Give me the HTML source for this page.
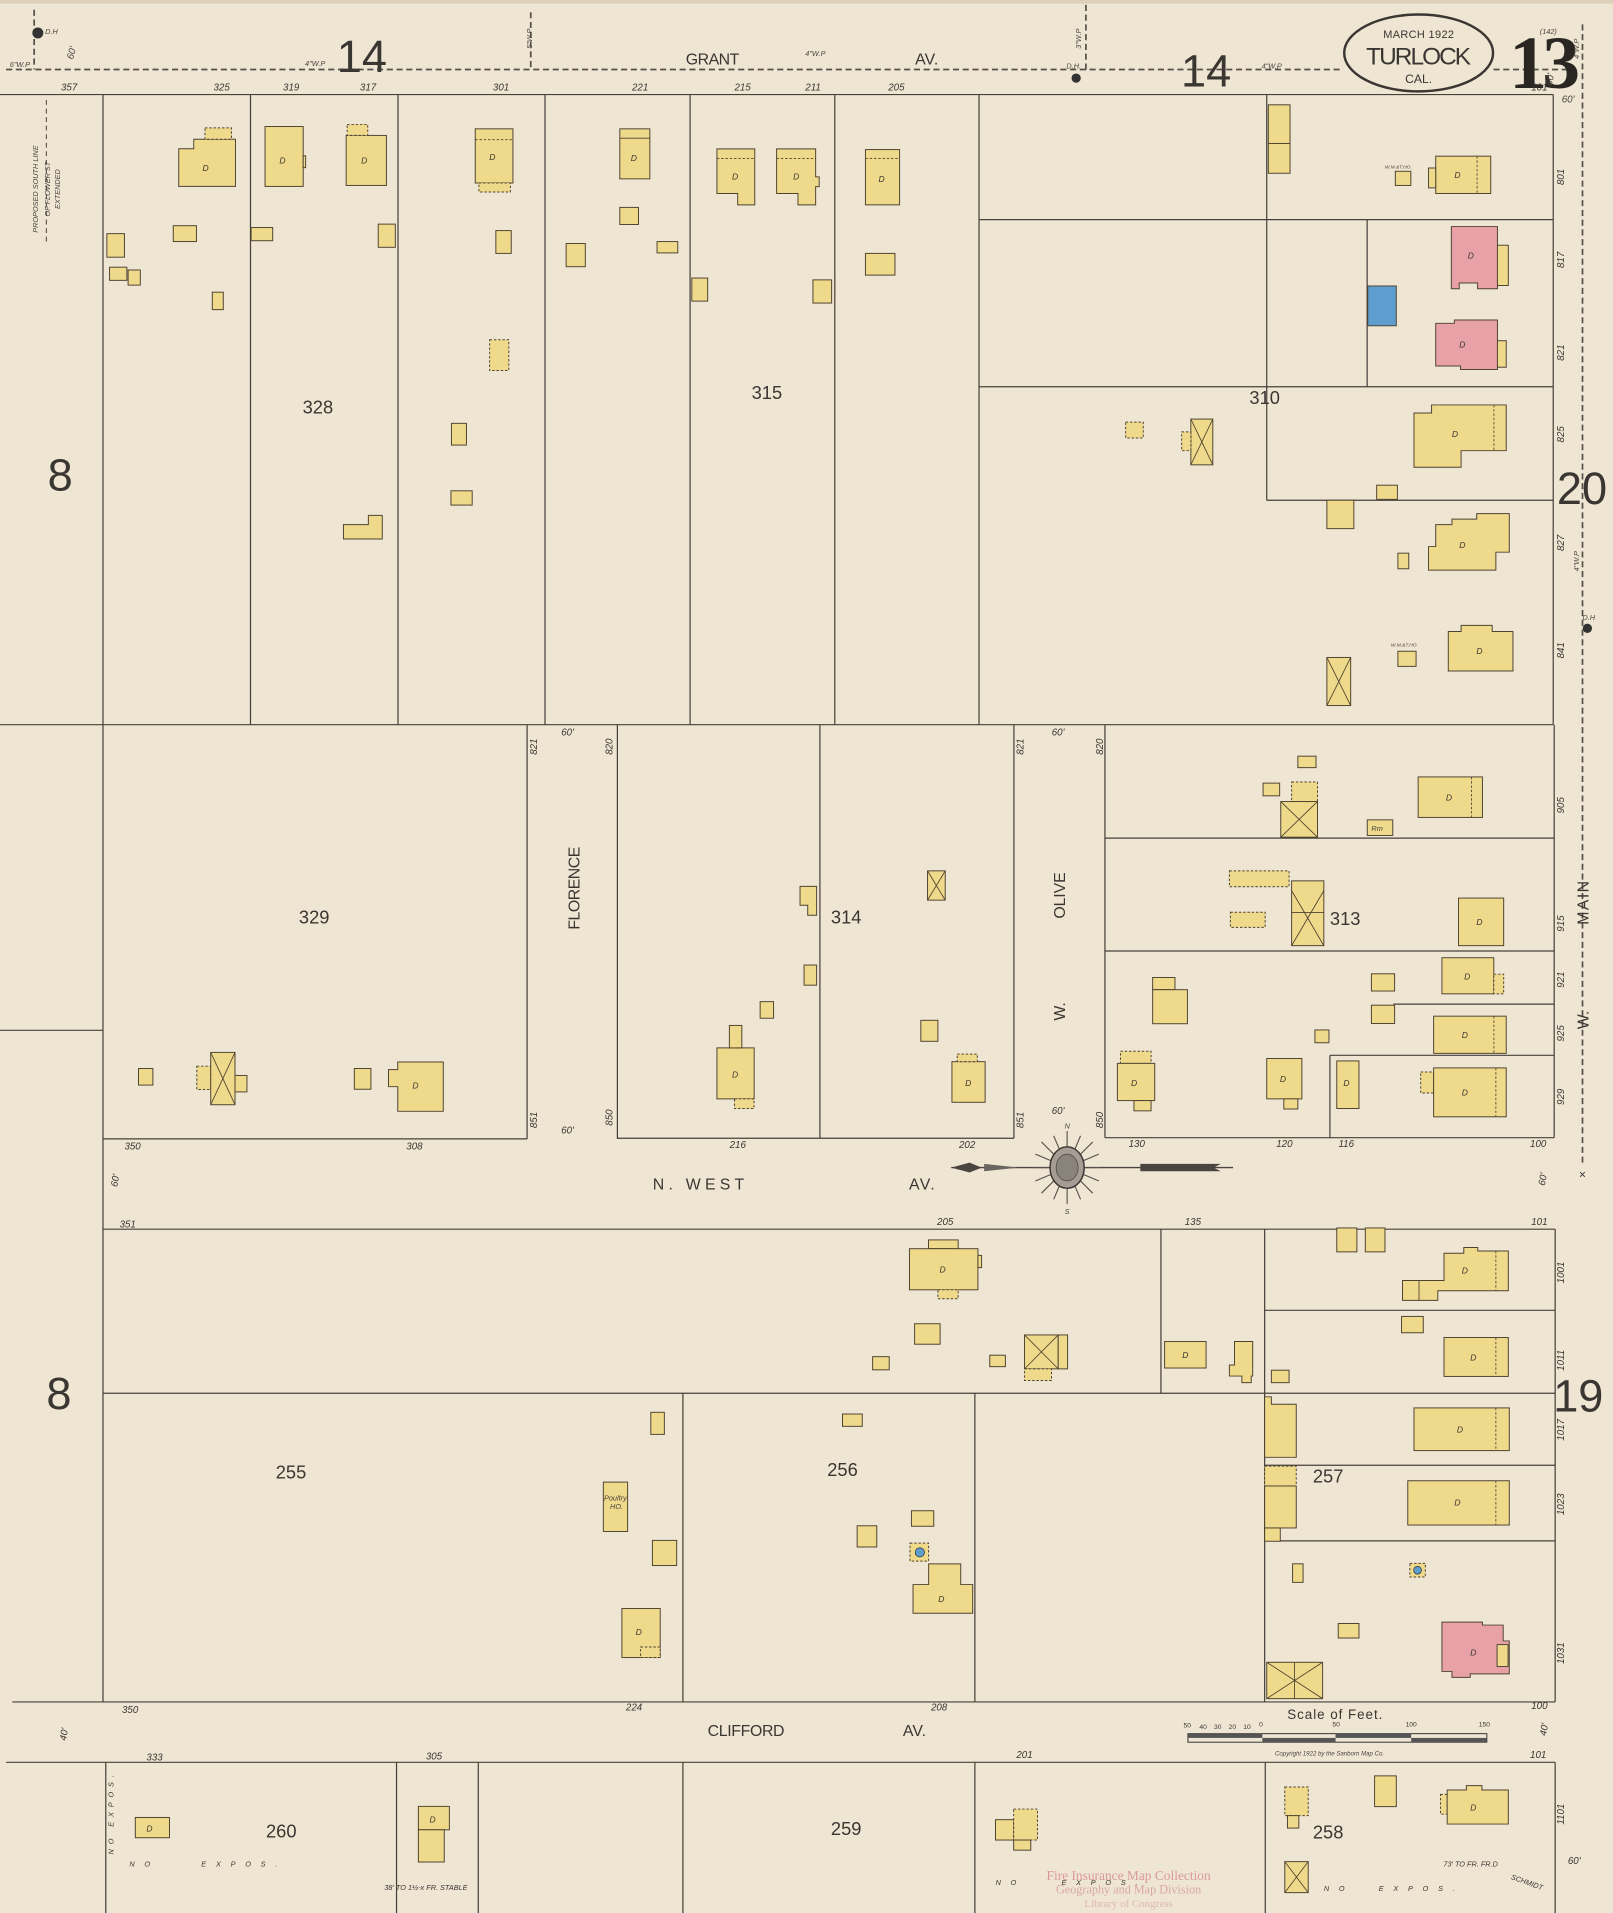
<!DOCTYPE html>
<html><head><meta charset="utf-8"><style>
html,body{margin:0;padding:0;background:#efe5d3;}
svg{display:block;}
.l{stroke:#45403a;stroke-width:1;fill:none;}
.b{fill:#efd98b;stroke:#4e4330;stroke-width:0.8;}
.bd{fill:#efd98b;stroke:#4e4330;stroke-width:0.8;stroke-dasharray:2 1.5;}
.p{fill:#e8a1a7;stroke:#4e4330;stroke-width:0.8;}
.u{fill:#5e9ecf;stroke:#4e4330;stroke-width:0.8;}
.x{stroke:#4e4330;stroke-width:0.7;fill:none;}
.dash{stroke:#55504a;stroke-width:1.4;stroke-dasharray:5 3;fill:none;}
text{font-family:"Liberation Sans",sans-serif;fill:#3a3632;}
.n{font-size:8px;font-style:italic;fill:#4a4540;}
.bn{font-size:15px;}
.big{font-size:37px;font-weight:normal;}
.st{font-size:13px;}
.t{font-size:6px;font-style:italic;fill:#4a4540;}
.dd{font-size:7px;font-style:italic;fill:#4a4540;}
</style></head><body>
<svg width="1613" height="1913" viewBox="0 0 1322 1568" preserveAspectRatio="none" xmlns="http://www.w3.org/2000/svg">
<rect x="0" y="0" width="1322" height="1568" fill="#efe5d3"/>
<rect x="0" y="0" width="1322" height="3" fill="#ddd0bb"/>

<!-- top dashed water line -->
<line class="dash" x1="5" y1="57" x2="1100" y2="57"/>
<line class="dash" x1="1224" y1="57" x2="1290" y2="57"/>
<line class="dash" x1="28" y1="8" x2="28" y2="57"/>
<line class="dash" x1="435" y1="10" x2="435" y2="57"/>
<line class="dash" x1="890" y1="4" x2="890" y2="57"/>
<line class="dash" x1="1297" y1="20" x2="1297" y2="956"/>
<circle cx="31" cy="27" r="4.5" fill="#333"/>
<text x="37" y="28" class="t">D.H</text>
<circle cx="882" cy="64" r="3.8" fill="#333"/>
<text x="874" y="56" class="t">D.H.</text>
<circle cx="1301" cy="515" r="3.8" fill="#333"/>
<text x="1297" y="508" class="t">D.H</text>
<text x="1297" y="966" font-size="10" text-anchor="middle">×</text>
<text x="8" y="55" class="t">6"W.P</text>
<text x="56" y="52" class="n" transform="rotate(-75 56 48)">60'</text>
<text x="250" y="54" class="t">4"W.P</text>
<text x="276" y="59" class="big">14</text>
<text x="430" y="46" class="t" transform="rotate(-90 430 40)">5"W.P</text>
<text x="562" y="53" class="st" textLength="44">GRANT</text>
<text x="660" y="46" class="t">4"W.P</text>
<text x="750" y="53" class="st" textLength="19">AV.</text>
<text x="886" y="40" class="t" transform="rotate(-90 886 40)">3"W.P</text>
<text x="968" y="71" class="big">14</text>
<text x="1034" y="56" class="t">4"W.P</text>

<!-- title oval -->
<ellipse cx="1162.7" cy="43.4" rx="61" ry="31.5" fill="#efe5d3" stroke="#3a3632" stroke-width="2"/>
<text x="1162.7" y="31" font-size="9" text-anchor="middle" textLength="58">MARCH 1922</text>
<text x="1162.7" y="53" font-size="20" text-anchor="middle" textLength="86">TURLOCK</text>
<text x="1162.7" y="68" font-size="10" text-anchor="middle">CAL.</text>
<text x="1237" y="72" font-family="Liberation Serif" font-size="62" font-weight="bold" textLength="58" style="font-family:'Liberation Serif',serif;fill:#2a2622">13</text>
<text x="1262" y="28" class="t">(142)</text>
<text x="1268" y="74" class="n" transform="rotate(-80 1268 70)">60'</text>
<text x="1280" y="84" class="n">60'</text>

<!-- left proposed line -->
<line class="dash" x1="38" y1="82" x2="38" y2="200" style="stroke-width:0.9;stroke-dasharray:4 3"/>
<text x="31" y="155" class="t" transform="rotate(-90 31 155)" text-anchor="middle">PROPOSED SOUTH LINE</text>
<text x="41" y="155" class="t" transform="rotate(-90 41 155)" text-anchor="middle">OF FLOWER ST</text>
<text x="49" y="155" class="t" transform="rotate(-90 49 155)" text-anchor="middle">EXTENDED</text>

<!-- ===== GRID LINES ===== -->
<line class="l" x1="0" y1="77.5" x2="1273" y2="77.5"/>
<line class="l" x1="1273" y1="77.5" x2="1273" y2="594"/>
<line class="l" x1="0" y1="594" x2="1273" y2="594"/>
<line class="l" x1="84.4" y1="77.5" x2="84.4" y2="1395"/>
<line class="l" x1="205.3" y1="77.5" x2="205.3" y2="594"/>
<line class="l" x1="326.2" y1="77.5" x2="326.2" y2="594"/>
<line class="l" x1="446.7" y1="77.5" x2="446.7" y2="594"/>
<line class="l" x1="565.6" y1="77.5" x2="565.6" y2="594"/>
<line class="l" x1="684.2" y1="77.5" x2="684.2" y2="594"/>
<line class="l" x1="802.4" y1="77.5" x2="802.4" y2="594"/>
<line class="l" x1="1038.2" y1="77.5" x2="1038.2" y2="410"/>
<line class="l" x1="1120.5" y1="180" x2="1120.5" y2="317"/>
<line class="l" x1="802.4" y1="180" x2="1273" y2="180"/>
<line class="l" x1="802.4" y1="317" x2="1273" y2="317"/>
<line class="l" x1="1038.2" y1="410" x2="1273" y2="410"/>

<!-- band 2 -->
<line class="l" x1="0" y1="844.5" x2="84.4" y2="844.5"/>
<line class="l" x1="84.4" y1="933.5" x2="432" y2="933.5"/>
<line class="l" x1="432" y1="594" x2="432" y2="933.5"/>
<line class="l" x1="506" y1="594" x2="506" y2="933.5"/>
<line class="l" x1="506" y1="933" x2="831" y2="933"/>
<line class="l" x1="672" y1="594" x2="672" y2="933"/>
<line class="l" x1="831" y1="594" x2="831" y2="933"/>
<line class="l" x1="905.6" y1="594" x2="905.6" y2="932.5"/>
<line class="l" x1="905.6" y1="932.5" x2="1273.8" y2="932.5"/>
<line class="l" x1="1273.8" y1="594" x2="1273.8" y2="932.5"/>
<line class="l" x1="905.6" y1="687" x2="1273.8" y2="687"/>
<line class="l" x1="905.6" y1="779.5" x2="1273.8" y2="779.5"/>
<line class="l" x1="1142" y1="823" x2="1273.8" y2="823"/>
<line class="l" x1="1090" y1="865" x2="1273.8" y2="865"/>
<line class="l" x1="1090" y1="865" x2="1090" y2="932.5"/>

<!-- band 3 -->
<line class="l" x1="84.4" y1="1007.5" x2="1274.6" y2="1007.5"/>
<line class="l" x1="1274.6" y1="1007.5" x2="1274.6" y2="1395"/>
<line class="l" x1="84.4" y1="1142" x2="1274.6" y2="1142"/>
<line class="l" x1="951.5" y1="1007.5" x2="951.5" y2="1142"/>
<line class="l" x1="1036.5" y1="1007.5" x2="1036.5" y2="1395"/>
<line class="l" x1="1036.5" y1="1074" x2="1274.6" y2="1074"/>
<line class="l" x1="1036.5" y1="1201" x2="1274.6" y2="1201"/>
<line class="l" x1="1036.5" y1="1263" x2="1274.6" y2="1263"/>
<line class="l" x1="559.7" y1="1142" x2="559.7" y2="1395"/>
<line class="l" x1="799" y1="1142" x2="799" y2="1395"/>
<line class="l" x1="10" y1="1395" x2="1274.6" y2="1395"/>
<!-- band 4 -->
<line class="l" x1="5" y1="1444.5" x2="1274.6" y2="1444.5"/>
<line class="l" x1="1274.6" y1="1444.5" x2="1274.6" y2="1568"/>
<line class="l" x1="86.7" y1="1444.5" x2="86.7" y2="1568"/>
<line class="l" x1="325" y1="1444.5" x2="325" y2="1568"/>
<line class="l" x1="392" y1="1444.5" x2="392" y2="1568"/>
<line class="l" x1="559.7" y1="1444.5" x2="559.7" y2="1568"/>
<line class="l" x1="799" y1="1444.5" x2="799" y2="1568"/>
<line class="l" x1="1037" y1="1444.5" x2="1037" y2="1568"/>

<!-- ===== BIG LABELS ===== -->
<text x="39" y="402" class="big">8</text>
<text x="38" y="1155" class="big">8</text>
<text x="1276" y="413" class="big">20</text>
<text x="1273" y="1157" class="big">19</text>
<text x="248" y="339" class="bn">328</text>
<text x="616" y="327" class="bn">315</text>
<text x="1024" y="331" class="bn">310</text>
<text x="245" y="757" class="bn">329</text>
<text x="681" y="757" class="bn">314</text>
<text x="1090" y="758" class="bn">313</text>
<text x="226" y="1212" class="bn">255</text>
<text x="678" y="1210" class="bn">256</text>
<text x="1076" y="1215" class="bn">257</text>
<text x="1076" y="1507" class="bn">258</text>
<text x="681" y="1504" class="bn">259</text>
<text x="218" y="1506" class="bn">260</text>

<text x="475" y="728" class="st" transform="rotate(-90 475 728)" text-anchor="middle" textLength="68">FLORENCE</text>
<text x="873" y="734" class="st" transform="rotate(-90 873 734)" text-anchor="middle" textLength="38">OLIVE</text>
<text x="873" y="829" class="st" transform="rotate(-90 873 829)" text-anchor="middle">W.</text>
<text x="1302" y="740" class="st" transform="rotate(-90 1302 740)" text-anchor="middle" textLength="36">MAIN</text>
<text x="1302" y="836" class="st" transform="rotate(-90 1302 836)" text-anchor="middle">W.</text>
<text x="535" y="975" class="st" textLength="75">N.   WEST</text>
<text x="745" y="975" class="st" textLength="21">AV.</text>
<text x="580" y="1423" class="st" textLength="63">CLIFFORD</text>
<text x="740" y="1423" class="st" textLength="19">AV.</text>

<!-- lot numbers -->
<g class="n">
<text x="50" y="74">357</text><text x="175" y="74">325</text><text x="232" y="74">319</text>
<text x="295" y="74">317</text><text x="404" y="74">301</text><text x="518" y="74">221</text>
<text x="602" y="74">215</text><text x="660" y="74">211</text><text x="728" y="74">205</text>
<text x="1255" y="74">101</text>
<text x="460" y="603">60'</text><text x="862" y="603">60'</text>
<text x="460" y="929">60'</text><text x="862" y="913">60'</text>
<text x="102" y="942">350</text><text x="333" y="942">308</text><text x="598" y="941">216</text>
<text x="786" y="941">202</text><text x="925" y="940">130</text><text x="1046" y="940">120</text>
<text x="1097" y="940">116</text><text x="1254" y="940">100</text>
<text x="98" y="1006">351</text><text x="768" y="1004">205</text><text x="971" y="1004">135</text>
<text x="1255" y="1004">101</text>
<text x="100" y="1404">350</text><text x="513" y="1402">224</text><text x="763" y="1402">208</text>
<text x="1255" y="1401">100</text>
<text x="120" y="1443">333</text><text x="349" y="1442">305</text><text x="833" y="1441">201</text>
<text x="1254" y="1441">101</text>
<text x="1285" y="1528">60'</text>
</g>
<g class="n">
<text x="440" y="612" transform="rotate(-90 440 612)" text-anchor="middle">821</text>
<text x="502" y="612" transform="rotate(-90 502 612)" text-anchor="middle">820</text>
<text x="839" y="612" transform="rotate(-90 839 612)" text-anchor="middle">821</text>
<text x="904" y="612" transform="rotate(-90 904 612)" text-anchor="middle">820</text>
<text x="440" y="918" transform="rotate(-90 440 918)" text-anchor="middle">851</text>
<text x="502" y="916" transform="rotate(-90 502 916)" text-anchor="middle">850</text>
<text x="839" y="918" transform="rotate(-90 839 918)" text-anchor="middle">851</text>
<text x="904" y="918" transform="rotate(-90 904 918)" text-anchor="middle">850</text>
<text x="1282" y="145" transform="rotate(-90 1282 145)" text-anchor="middle">801</text>
<text x="1282" y="213" transform="rotate(-90 1282 213)" text-anchor="middle">817</text>
<text x="1282" y="289" transform="rotate(-90 1282 289)" text-anchor="middle">821</text>
<text x="1282" y="356" transform="rotate(-90 1282 356)" text-anchor="middle">825</text>
<text x="1282" y="445" transform="rotate(-90 1282 445)" text-anchor="middle">827</text>
<text x="1282" y="533" transform="rotate(-90 1282 533)" text-anchor="middle">841</text>
<text x="1282" y="660" transform="rotate(-90 1282 660)" text-anchor="middle">905</text>
<text x="1282" y="757" transform="rotate(-90 1282 757)" text-anchor="middle">915</text>
<text x="1282" y="803" transform="rotate(-90 1282 803)" text-anchor="middle">921</text>
<text x="1282" y="847" transform="rotate(-90 1282 847)" text-anchor="middle">925</text>
<text x="1282" y="899" transform="rotate(-90 1282 899)" text-anchor="middle">929</text>
<text x="1282" y="1043" transform="rotate(-90 1282 1043)" text-anchor="middle">1001</text>
<text x="1282" y="1115" transform="rotate(-90 1282 1115)" text-anchor="middle">1011</text>
<text x="1282" y="1172" transform="rotate(-90 1282 1172)" text-anchor="middle">1017</text>
<text x="1282" y="1233" transform="rotate(-90 1282 1233)" text-anchor="middle">1023</text>
<text x="1282" y="1355" transform="rotate(-90 1282 1355)" text-anchor="middle">1031</text>
<text x="1282" y="1487" transform="rotate(-90 1282 1487)" text-anchor="middle">1101</text>
<text x="97" y="968" transform="rotate(-80 97 968)" text-anchor="middle">60'</text>
<text x="1267" y="967" transform="rotate(-80 1267 967)" text-anchor="middle">60'</text>
<text x="55" y="1422" transform="rotate(-80 55 1422)" text-anchor="middle">40'</text>
<text x="1268" y="1418" transform="rotate(-80 1268 1418)" text-anchor="middle">40'</text>
<text x="1294" y="460" transform="rotate(-90 1294 460)" text-anchor="middle" class="t">4"W.P</text>
<text x="1294" y="40" transform="rotate(-90 1294 40)" text-anchor="middle" class="t">4"W.P</text>
</g>

<!-- ===== BUILDINGS: top band ===== -->
<polygon class="b" points="146.5,121.9 158.8,121.9 158.8,114.1 193,114.1 193,152.8 146.5,152.8"/>
<rect class="bd" x="168" y="104.8" width="21.7" height="9.3"/>
<rect class="b" x="217.2" y="103.7" width="31.3" height="49.1"/>
<rect class="b" x="248.5" y="127.7" width="2" height="9.7"/>
<rect class="b" x="283.7" y="111" width="33" height="41"/>
<rect class="bd" x="284.5" y="102" width="16.9" height="9"/>
<rect class="b" x="389.5" y="105.6" width="30.9" height="44.4"/>
<line class="x" x1="389.5" y1="114.5" x2="420.4" y2="114.5" stroke-dasharray="2 1.5"/>
<rect class="bd" x="392.5" y="150" width="25.8" height="7.4"/>
<rect class="b" x="508" y="105.6" width="24.6" height="41"/>
<line class="x" x1="508" y1="113.3" x2="532.6" y2="113.3"/>
<polygon class="b" points="587.6,122 618.6,122 618.6,167.9 604.6,167.9 604.6,158.6 587.6,158.6"/>
<line class="x" x1="587.6" y1="130" x2="618.6" y2="130" stroke-dasharray="2 1.5"/>
<polygon class="b" points="636.5,122 668.5,122 668.5,145 671.4,145 671.4,153 668.5,153 668.5,167.9 654,167.9 654,158.6 636.5,158.6"/>
<line class="x" x1="636.5" y1="130" x2="668.5" y2="130" stroke-dasharray="2 1.5"/>
<rect class="b" x="709.3" y="122.6" width="28" height="45.3"/>
<line class="x" x1="709.3" y1="130" x2="737.3" y2="130" stroke-dasharray="2 1.5"/>
<g class="dd"><text x="166" y="140">D</text><text x="229" y="134">D</text><text x="296" y="134">D</text>
<text x="401" y="131">D</text><text x="517" y="132">D</text><text x="600" y="147">D</text>
<text x="650" y="147">D</text><text x="720" y="149">D</text></g>

<rect class="b" x="142" y="185" width="19" height="13"/>
<rect class="b" x="205.8" y="186.5" width="17.7" height="10.8"/>
<rect class="b" x="310" y="183.7" width="14" height="19"/>
<rect class="b" x="406.4" y="189" width="12.6" height="18.7"/>
<rect class="b" x="464" y="199.6" width="15.7" height="19"/>
<rect class="b" x="508" y="170" width="15.3" height="14"/>
<rect class="b" x="538.5" y="198" width="17" height="9.3"/>
<rect class="b" x="567" y="227.9" width="13" height="18.9"/>
<rect class="b" x="87.6" y="191.5" width="14.4" height="19.3"/>
<rect class="b" x="89.8" y="219" width="14.2" height="10.8"/>
<rect class="b" x="105" y="221.3" width="10" height="12.4"/>
<rect class="b" x="174" y="239.5" width="9" height="14.3"/>
<rect class="bd" x="401.3" y="278.5" width="15.7" height="25.2"/>
<rect class="b" x="370" y="347" width="12.3" height="17.8"/>
<rect class="b" x="369.6" y="402.3" width="17.4" height="11.7"/>
<polygon class="b" points="281.5,430 301.9,430 301.9,422.4 313.3,422.4 313.3,441.8 281.5,441.8"/>
<rect class="b" x="709.3" y="207.7" width="24.2" height="17.8"/>
<rect class="b" x="666.3" y="229.4" width="15.3" height="19"/>

<rect class="b" x="1039.5" y="85.9" width="17.8" height="31.7"/>
<rect class="b" x="1039.5" y="117.6" width="17.8" height="24.4"/>
<rect class="b" x="1143.6" y="140.4" width="12.7" height="11.6"/>
<text x="1135" y="138" class="t" style="font-size:4px">W.M.&amp;T.HO.</text>
<rect class="b" x="1176.7" y="128" width="45.1" height="30.6"/>
<rect class="b" x="1170.8" y="137.7" width="5.9" height="16.3"/>
<line class="x" x1="1210.6" y1="128" x2="1210.6" y2="158.6" stroke-dasharray="2 1.5"/>
<polygon class="p" points="1189.5,185.7 1227.3,185.7 1227.3,236.7 1211,236.7 1211,232 1196,232 1196,236.7 1189.5,236.7"/>
<rect class="b" x="1227.3" y="201" width="8.9" height="33"/>
<rect class="u" x="1121" y="234.4" width="23.4" height="32.6"/>
<polygon class="p" points="1176.7,265 1192,265 1192,262.3 1227.3,262.3 1227.3,302.9 1197,302.9 1197,300 1176.7,300"/>
<rect class="b" x="1227.3" y="279.3" width="7.2" height="21.7"/>
<polygon class="b" points="1158.9,338.5 1173.3,338.5 1173.3,331.9 1234.5,331.9 1234.5,369.4 1197.5,369.4 1197.5,383 1158.9,383"/>
<line class="x" x1="1224.4" y1="331.9" x2="1224.4" y2="369.4" stroke-dasharray="2 1.5"/>
<rect class="b" x="1128.3" y="397.7" width="17" height="11.6"/>
<rect class="b" x="1087.5" y="410" width="22.1" height="23.3"/>
<rect class="bd" x="922.6" y="346" width="14.4" height="13"/>
<rect class="b" x="976" y="343.5" width="18" height="37.5"/>
<path class="x" d="M976 343.5 L994 381 M994 343.5 L976 381"/>
<rect class="bd" x="968.5" y="354" width="7.5" height="15.4"/>
<polygon class="b" points="1170.8,448 1176.7,448 1176.7,430 1190,430 1190,425.5 1210.3,425.5 1210.3,421 1237,421 1237,452.6 1226,452.6 1226,467.3 1170.8,467.3"/>
<rect class="b" x="1145.7" y="453.4" width="8.9" height="12.8"/>
<polygon class="b" points="1187,517.6 1197.5,517.6 1197.5,512.6 1223,512.6 1223,517.6 1240,517.6 1240,550 1187,550"/>
<rect class="b" x="1145.7" y="533.8" width="14.9" height="12.4"/>
<text x="1140" y="530" class="t" style="font-size:4px">W.M.&amp;T.HO</text>
<rect class="b" x="1087.5" y="538.9" width="19.5" height="39.4"/>
<path class="x" d="M1087.5 538.9 L1107 578.3 M1107 538.9 L1087.5 578.3"/>
<g class="dd"><text x="1192" y="146">D</text><text x="1203" y="212">D</text><text x="1196" y="285">D</text>
<text x="1190" y="358">D</text><text x="1196" y="449">D</text><text x="1210" y="536">D</text></g>

<!-- ===== middle band ===== -->
<rect class="b" x="113.5" y="875.8" width="11.8" height="13.6"/>
<rect class="bd" x="161.3" y="873.9" width="11.4" height="19.1"/>
<rect class="b" x="172.7" y="862.6" width="19.9" height="42.9"/>
<path class="x" d="M172.7 862.6 L192.6 905.5 M192.6 862.6 L172.7 905.5"/>
<rect class="b" x="192.6" y="881.5" width="9.8" height="13.5"/>
<rect class="b" x="290.4" y="875.8" width="13.6" height="17"/>
<polygon class="b" points="326,870.5 363.3,870.5 363.3,910.9 326,910.9 326,890.7 318.4,890.7 318.4,876.7 326,876.7"/>
<rect class="b" x="587.6" y="858.9" width="30.5" height="41.8"/>
<rect class="b" x="597.8" y="840.5" width="10.2" height="18.4"/>
<rect class="bd" x="602" y="900.7" width="16" height="7.9"/>
<rect class="b" x="623" y="821" width="11" height="13.6"/>
<polygon class="b" points="655.7,726.5 669.3,726.5 669.3,750.2 662,750.2 662,742 655.7,742"/>
<rect class="b" x="659" y="791" width="10.3" height="16.5"/>
<rect class="b" x="760.2" y="713.8" width="14.5" height="24"/>
<path class="x" d="M760.2 713.8 L774.7 737.8 M774.7 713.8 L760.2 737.8"/>
<rect class="b" x="754.7" y="836.3" width="14" height="17.2"/>
<rect class="b" x="780.2" y="870.2" width="27.2" height="33.3"/>
<rect class="bd" x="784.5" y="864" width="16.5" height="6.2"/>
<rect class="b" x="1063.7" y="619.8" width="14.9" height="9.4"/>
<rect class="b" x="1035.2" y="641.9" width="13.6" height="10.4"/>
<rect class="bd" x="1058.6" y="641" width="21.2" height="16"/>
<rect class="b" x="1049.7" y="657" width="30.1" height="29.2"/>
<path class="x" d="M1049.7 657 L1079.8 686.2 M1079.8 657 L1049.7 686.2"/>
<rect class="b" x="1120.6" y="672" width="20.9" height="12.8"/>
<text x="1124" y="681" class="t">Rm</text>
<rect class="b" x="1162.3" y="636.8" width="52.7" height="33.2"/>
<line class="x" x1="1206" y1="636.8" x2="1206" y2="670" stroke-dasharray="2 1.5"/>
<rect class="bd" x="1007.6" y="713.8" width="48.9" height="13"/>
<rect class="bd" x="1008.4" y="747.7" width="28.5" height="12.4"/>
<rect class="b" x="1058.6" y="722" width="26.4" height="53.1"/>
<path class="x" d="M1058.6 730 L1085 775.1 M1085 730 L1058.6 775.1 M1058.6 748 L1085 748"/>
<rect class="b" x="1195.4" y="736.1" width="37" height="39"/>
<rect class="b" x="1181.8" y="785" width="42.5" height="29.6"/>
<rect class="bd" x="1224.3" y="798.5" width="8.1" height="16.1"/>
<rect class="b" x="1124" y="798.2" width="19" height="14.1"/>
<rect class="b" x="1124" y="823.9" width="19" height="15"/>
<rect class="b" x="1175" y="832.9" width="59.5" height="30.5"/>
<line class="x" x1="1224.4" y1="832.9" x2="1224.4" y2="863.4" stroke-dasharray="2 1.5"/>
<rect class="b" x="1077.7" y="844.2" width="11.5" height="10.5"/>
<rect class="b" x="944.7" y="801.2" width="18.3" height="10"/>
<rect class="b" x="944.7" y="811.2" width="28.5" height="27.9"/>
<rect class="bd" x="918.3" y="861.7" width="25.1" height="9.9"/>
<rect class="b" x="915.8" y="871.6" width="30.6" height="30.5"/>
<rect class="b" x="929.4" y="902.1" width="14" height="8.4"/>
<rect class="b" x="1038.2" y="867.6" width="28.8" height="33.1"/>
<rect class="b" x="1052.2" y="900.7" width="11.5" height="8.3"/>
<rect class="b" x="1095.6" y="869.6" width="18.2" height="39"/>
<rect class="bd" x="1164.4" y="878.7" width="10.6" height="17.2"/>
<rect class="b" x="1175" y="875.3" width="59.5" height="40.1"/>
<line class="x" x1="1226" y1="875.3" x2="1226" y2="915.4" stroke-dasharray="2 1.5"/>
<g class="dd"><text x="338" y="892">D</text><text x="600" y="883">D</text><text x="791" y="890">D</text>
<text x="1185" y="656">D</text><text x="1210" y="758">D</text><text x="1200" y="803">D</text>
<text x="1198" y="851">D</text><text x="1198" y="898">D</text><text x="927" y="890">D</text>
<text x="1049" y="887">D</text><text x="1101" y="890">D</text></g>

<!-- compass -->
<g transform="translate(874.6 957)">
<line x1="-95" y1="0" x2="136" y2="0" stroke="#4a4540" stroke-width="1.2"/>
<path d="M-95 0 L-80 -4 L-70 0 L-80 4 Z" fill="#4a4540"/>
<path d="M-68 -3 L-40 0 L-68 3 Z" fill="#6a655e"/>
<path d="M60 -3 L126 -3 L120 0 L126 3 L60 3 Z" fill="#4a4540"/>
<g stroke="#55504a" stroke-width="0.9">
<line x1="0" y1="-30" x2="0" y2="30"/><line x1="-28" y1="0" x2="28" y2="0"/>
<line x1="-21" y1="-21" x2="21" y2="21"/><line x1="-21" y1="21" x2="21" y2="-21"/>
<line x1="-11" y1="-26" x2="11" y2="26"/><line x1="11" y1="-26" x2="-11" y2="26"/>
<line x1="-26" y1="-11" x2="26" y2="11"/><line x1="-26" y1="11" x2="26" y2="-11"/>
</g>
<ellipse cx="0" cy="0" rx="14" ry="17" fill="#a59d94" stroke="#3a3632" stroke-width="1.2"/>
<ellipse cx="0" cy="0" rx="9" ry="11" fill="#8a837b" stroke="#4a4540" stroke-width="0.6"/>
<text x="-2" y="-32" class="t">N</text><text x="-2" y="38" class="t">S</text>
</g>

<!-- ===== band 3 ===== -->
<rect class="b" x="761" y="1016.3" width="24.3" height="7.2"/>
<rect class="b" x="745.4" y="1023.5" width="56.1" height="33.7"/>
<rect class="b" x="801.5" y="1029" width="3" height="10"/>
<rect class="bd" x="768.7" y="1057.2" width="16.6" height="7.3"/>
<rect class="b" x="749.6" y="1085" width="20.9" height="16.8"/>
<rect class="b" x="715.2" y="1112" width="13.6" height="10.8"/>
<rect class="b" x="811.2" y="1110.8" width="12.8" height="9.4"/>
<rect class="b" x="839.7" y="1094.2" width="27.6" height="27.8"/>
<path class="x" d="M839.7 1094.2 L867.3 1122 M867.3 1094.2 L839.7 1122"/>
<rect class="b" x="867.3" y="1094.2" width="7.7" height="27.8"/>
<rect class="bd" x="839.7" y="1122" width="22.1" height="9.5"/>
<rect class="b" x="954.5" y="1099.6" width="34" height="21.7"/>
<polygon class="b" points="1011.8,1099.6 1026.7,1099.6 1026.7,1127.9 1025.5,1127.9 1025.5,1133.3 1017.8,1133.3 1017.8,1127.9 1007.6,1127.9 1007.6,1118.8 1011.8,1118.8"/>
<rect class="b" x="1042" y="1123.1" width="14.5" height="10.2"/>
<rect class="b" x="1095.6" y="1006.5" width="16.5" height="19.6"/>
<rect class="b" x="1119" y="1006.5" width="16.1" height="19.6"/>
<polygon class="b" points="1149.5,1049.6 1183.5,1049.6 1183.5,1027.2 1199.7,1027.2 1199.7,1022.5 1211.2,1022.5 1211.2,1025.4 1236.2,1025.4 1236.2,1058 1178.4,1058 1178.4,1065.9 1149.5,1065.9"/>
<line class="x" x1="1163" y1="1049.6" x2="1163" y2="1065.9"/>
<line class="x" x1="1226" y1="1025.4" x2="1226" y2="1058" stroke-dasharray="2 1.5"/>
<rect class="b" x="1148.7" y="1079" width="17.8" height="13.4"/>
<rect class="b" x="1183.5" y="1096.3" width="52.7" height="31.9"/>
<line class="x" x1="1226" y1="1096.3" x2="1226" y2="1128.2" stroke-dasharray="2 1.5"/>
<polygon class="b" points="1036.5,1144.9 1042,1144.9 1042,1151 1062.4,1151 1062.4,1194.5 1036.5,1194.5"/>
<rect class="b" x="1158.9" y="1154" width="78.1" height="35"/>
<line class="x" x1="1226" y1="1154" x2="1226" y2="1189" stroke-dasharray="2 1.5"/>
<rect class="bd" x="1036.5" y="1201.7" width="25.9" height="16.3"/>
<rect class="b" x="1036.5" y="1218" width="25.9" height="34.4"/>
<rect class="b" x="1036.5" y="1252.4" width="12.8" height="10.9"/>
<rect class="b" x="1153.8" y="1213.7" width="83.2" height="36.3"/>
<line class="x" x1="1226" y1="1213.7" x2="1226" y2="1250" stroke-dasharray="2 1.5"/>
<rect class="b" x="1059.4" y="1281.8" width="8.6" height="15.2"/>
<rect class="bd" x="1155.5" y="1281.4" width="12.7" height="11.2"/>
<circle cx="1161.8" cy="1287" r="3.2" fill="#5e9ecf" stroke="#333" stroke-width="0.6"/>
<rect class="b" x="1096.8" y="1330.7" width="17" height="11.9"/>
<rect class="b" x="1038.2" y="1362.5" width="45.8" height="29.8"/>
<path class="x" d="M1038.2 1362.5 L1084 1392.3 M1084 1362.5 L1038.2 1392.3 M1061 1362.5 L1061 1392.3"/>
<polygon class="p" points="1181.8,1329.6 1215,1329.6 1215,1332 1232,1332 1232,1345 1237,1345 1237,1372 1205,1372 1205,1374.9 1190,1374.9 1190,1370 1181.8,1370"/>
<rect class="b" x="1227" y="1348" width="9" height="18"/>
<rect class="b" x="690.5" y="1159" width="16.2" height="10.1"/>
<rect class="b" x="702.5" y="1250.6" width="16.1" height="17.4"/>
<rect class="b" x="747" y="1238.3" width="18.3" height="12.7"/>
<rect class="bd" x="745.8" y="1264.8" width="15.3" height="14.8"/>
<circle cx="753.9" cy="1272.4" r="3.8" fill="#5e9ecf" stroke="#333" stroke-width="0.6"/>
<polygon class="b" points="761.1,1281.8 787.4,1281.8 787.4,1298.8 797.2,1298.8 797.2,1322.3 748.3,1322.3 748.3,1298.8 761.1,1298.8"/>
<rect class="b" x="533.4" y="1157.6" width="11.1" height="18.1"/>
<rect class="b" x="494.5" y="1214.8" width="19.9" height="40.5"/>
<text x="495" y="1230" class="t">Poultry</text><text x="500" y="1237" class="t">HO.</text>
<rect class="b" x="534.7" y="1262.6" width="19.9" height="20.6"/>
<rect class="b" x="509.7" y="1318.4" width="31.4" height="40.2"/>
<rect class="bd" x="525" y="1350" width="16" height="8.6"/>
<g class="dd"><text x="770" y="1043">D</text><text x="1198" y="1044">D</text><text x="1205" y="1115">D</text>
<text x="1194" y="1174">D</text><text x="1192" y="1234">D</text><text x="1205" y="1357">D</text>
<text x="769" y="1313">D</text><text x="521" y="1340">D</text><text x="969" y="1113">D</text></g>

<!-- ===== band 4 ===== -->
<rect class="b" x="110.9" y="1489.7" width="28" height="16.6"/>
<rect class="b" x="342.9" y="1480.6" width="25.4" height="19.2"/>
<rect class="b" x="342.9" y="1499.8" width="21.2" height="26.4"/>
<rect class="bd" x="1053" y="1464.7" width="19.2" height="23.5"/>
<rect class="b" x="1055.2" y="1488.2" width="9.3" height="10.2"/>
<rect class="b" x="1126.6" y="1455.6" width="17.8" height="25.2"/>
<rect class="bd" x="1180.6" y="1470.8" width="5.5" height="16.2"/>
<polygon class="b" points="1186.1,1467.2 1201.8,1467.2 1201.8,1463.6 1214.6,1463.6 1214.6,1467.2 1236.2,1467.2 1236.2,1495.1 1186.1,1495.1"/>
<rect class="b" x="1053" y="1525.9" width="19.2" height="25.4"/>
<path class="x" d="M1053 1525.9 L1072.2 1551.3 M1072.2 1525.9 L1053 1551.3"/>
<rect class="b" x="815.9" y="1491.5" width="14.9" height="16.7"/>
<rect class="bd" x="830.8" y="1482.8" width="19.5" height="25.4"/>
<rect class="b" x="830.8" y="1508.2" width="14" height="8.3"/>
<g class="dd"><text x="120" y="1501">D</text><text x="352" y="1494">D</text><text x="1205" y="1484">D</text></g>
<g class="t">
<text x="106" y="1530" letter-spacing="8">NO</text><text x="165" y="1530" letter-spacing="8">EXPOS.</text>
<text x="93" y="1520" transform="rotate(-90 93 1520)" letter-spacing="4">NO EXPOS.</text>
<text x="315" y="1549">38' TO 1½-x FR. STABLE</text>
<text x="816" y="1545" letter-spacing="8">NO</text><text x="870" y="1545" letter-spacing="8">EXPOS.</text>
<text x="1085" y="1550" letter-spacing="8">NO</text><text x="1130" y="1550" letter-spacing="8">EXPOS.</text>
<text x="1183" y="1530">73' TO FR. FR.D</text>
<text x="1238" y="1540" transform="rotate(20 1238 1540)">SCHMIDT</text>
</g>

<!-- scale -->
<text x="1055" y="1409" font-size="11" textLength="78">Scale of Feet.</text>
<g class="t" style="font-style:normal;font-size:5.5px">
<text x="970" y="1416">50</text><text x="983" y="1417">40</text><text x="995" y="1417">30</text><text x="1007" y="1417">20</text><text x="1019" y="1417">10</text><text x="1032" y="1415">0</text>
<text x="1092" y="1415">50</text><text x="1152" y="1415">100</text><text x="1212" y="1415">150</text>
</g>
<rect x="973.6" y="1421" width="245" height="7" fill="#efe5d3" stroke="#333" stroke-width="0.8"/>
<rect x="973.6" y="1421" width="61" height="3.5" fill="#555"/>
<rect x="1034.6" y="1424.5" width="60" height="3.5" fill="#555"/>
<rect x="1094.6" y="1421" width="62" height="3.5" fill="#555"/>
<rect x="1156.6" y="1424.5" width="62" height="3.5" fill="#555"/>
<text x="1045" y="1439" class="t" style="font-size:5px">Copyright 1922 by the Sanborn Map Co.</text>

<!-- watermark -->
<g font-family="Liberation Serif" style="font-family:'Liberation Serif',serif" text-anchor="middle">
<text x="925" y="1541" font-size="11" style="fill:#d99aa0;font-family:'Liberation Serif',serif">Fire Insurance Map Collection</text>
<text x="925" y="1552" font-size="10" style="fill:#d9a7aa;font-family:'Liberation Serif',serif">Geography and Map Division</text>
<text x="925" y="1563" font-size="9" style="fill:#ddb6b6;font-family:'Liberation Serif',serif">Library of Congress</text>
</g>
</svg>
</body></html>
